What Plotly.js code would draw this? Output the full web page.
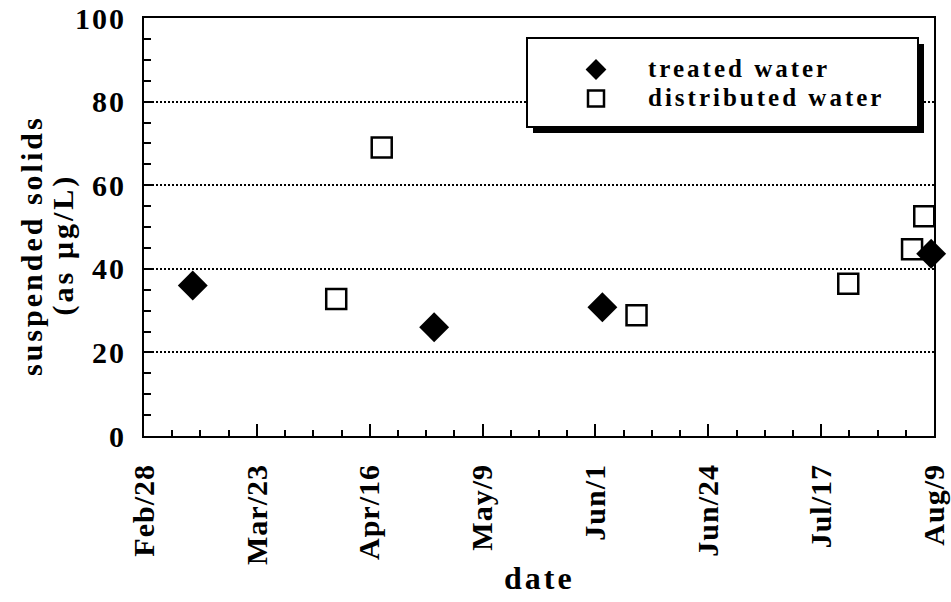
<!DOCTYPE html>
<html>
<head>
<meta charset="utf-8">
<script src="https://cdn.plot.ly/plotly-3.0.1.min.js"></script>
<style>
  body { margin: 0; background: #fff; }
  #chart { width: 951px; height: 602px; }
  .ytick text { letter-spacing: 2px; }
  .xtick text { letter-spacing: 1px; }
  .legendtext { letter-spacing: 3px; font-size: 25px !important; }
  .annotation text { letter-spacing: 3px; }
</style>
</head>
<body>
<div id="chart"></div>
<script>
// ---- data ----
const treatedDates = ['2001-03-10', '2001-04-28 12:00', '2001-06-02', '2001-08-08 10:00'];
const treatedValues = [36, 26, 30.8, 43.6];

const distributedDates = ['2001-04-08 10:00', '2001-04-17 18:00', '2001-06-09', '2001-07-22 10:00', '2001-08-04 12:00', '2001-08-07'];
const distributedValues = [32.8, 69, 28.9, 36.4, 44.7, 52.6];

const xStart = '2001-02-28';
const xEnd = '2001-08-09';
const xTickText = ['Feb/28', 'Mar/23', 'Apr/16', 'May/9', 'Jun/1', 'Jun/24', 'Jul/17', 'Aug/9'];
const yTickVals = [0, 20, 40, 60, 80, 100];
const seriesNames = ['treated water', 'distributed water'];
const yTitleLines = ['suspended solids', '(as \u00b5g/L)'];
const xTitle = 'date';

// evenly spaced tick positions across the range
const t0 = Date.parse(xStart + 'T00:00:00Z');
const t1 = Date.parse(xEnd + 'T00:00:00Z');
const nSeg = xTickText.length - 1;
const xTickVals = xTickText.map((_, i) => t0 + (t1 - t0) * i / nSeg);

const FONT = 'Liberation Serif, Times New Roman, serif';

const traces = [
  {
    x: treatedDates, y: treatedValues, name: seriesNames[0],
    type: 'scatter', mode: 'markers', cliponaxis: false,
    marker: { symbol: 'diamond', size: 23, color: '#000', line: { width: 0 } }
  },
  {
    x: distributedDates, y: distributedValues, name: seriesNames[1],
    type: 'scatter', mode: 'markers', cliponaxis: false,
    marker: { symbol: 'square-open', size: 20, color: '#000', line: { width: 2.5, color: '#000' } }
  }
];

const TOP = 18, BOTTOM = 436, LEFT = 144, RIGHT = 934;
const px = (p) => (p - LEFT) / (RIGHT - LEFT);
const py = (p) => (BOTTOM - p) / (BOTTOM - TOP);

const layout = {
  width: 951, height: 602,
  margin: { l: LEFT, r: 951 - RIGHT, t: TOP, b: 602 - BOTTOM },
  paper_bgcolor: '#fff', plot_bgcolor: '#fff',
  font: { family: FONT, color: '#000', weight: 'bold' },
  showlegend: true,
  legend: {
    x: px(544), y: py(50), xanchor: 'left', yanchor: 'top',
    bgcolor: 'rgba(0,0,0,0)', borderwidth: 0,
    itemwidth: 94,
    font: { family: FONT, size: 20, color: '#000', weight: 'bold' }
  },
  xaxis: {
    type: 'date',
    range: [t0, t1],
    tickmode: 'array', tickvals: xTickVals, ticktext: xTickText,
    tickangle: -90,
    ticks: 'inside', ticklen: 12, tickwidth: 2, tickcolor: '#000',
    ticklabelstandoff: 14, ticklabeloverflow: 'allow',
    minor: { ticks: 'inside', ticklen: 6, tickwidth: 2, tickcolor: '#000',
             tick0: t0, dtick: (t1 - t0) / (nSeg * 4) },
    showline: true, linewidth: 2, linecolor: '#000', mirror: true,
    showgrid: false, zeroline: false,
    tickfont: { family: FONT, size: 30, color: '#000', weight: 'bold' }
  },
  yaxis: {
    range: [0, 100],
    tickmode: 'array', tickvals: yTickVals,
    ticks: 'inside', ticklen: 8, tickwidth: 2, tickcolor: '#000',
    ticklabelstandoff: 10, ticklabeloverflow: 'allow',
    minor: { ticks: 'inside', ticklen: 7, tickwidth: 2, tickcolor: '#000', dtick: 5, showgrid: false },
    showline: true, linewidth: 2, linecolor: '#000', mirror: true,
    showgrid: true, gridcolor: '#000', gridwidth: 2, griddash: '2px,2px',
    zeroline: false,
    tickfont: { family: FONT, size: 30, color: '#000', weight: 'bold' }
  },
  shapes: [
    { type: 'rect', xref: 'paper', yref: 'paper', layer: 'above',
      x0: px(533), x1: px(924), y0: py(133), y1: py(44),
      fillcolor: '#000', line: { width: 0 } },
    { type: 'rect', xref: 'paper', yref: 'paper', layer: 'above',
      x0: px(527), x1: px(918), y0: py(127), y1: py(38),
      fillcolor: '#fff', line: { width: 2, color: '#000' } }
  ],
  annotations: [
    { text: yTitleLines[0], xref: 'paper', yref: 'paper', x: px(31), y: py(245),
      xanchor: 'center', yanchor: 'middle', textangle: -90, showarrow: false,
      font: { family: FONT, size: 30, color: '#000', weight: 'bold' } },
    { text: yTitleLines[1], xref: 'paper', yref: 'paper', x: px(63), y: py(245),
      xanchor: 'center', yanchor: 'middle', textangle: -90, showarrow: false,
      font: { family: FONT, size: 30, color: '#000', weight: 'bold' } },
    { text: xTitle, xref: 'paper', yref: 'paper', x: 0.5, y: py(578),
      xanchor: 'center', yanchor: 'middle', showarrow: false,
      font: { family: FONT, size: 32, color: '#000', weight: 'bold' } }
  ]
};

Plotly.newPlot('chart', traces, layout, { displayModeBar: false, staticPlot: true });
</script>
</body>
</html>
